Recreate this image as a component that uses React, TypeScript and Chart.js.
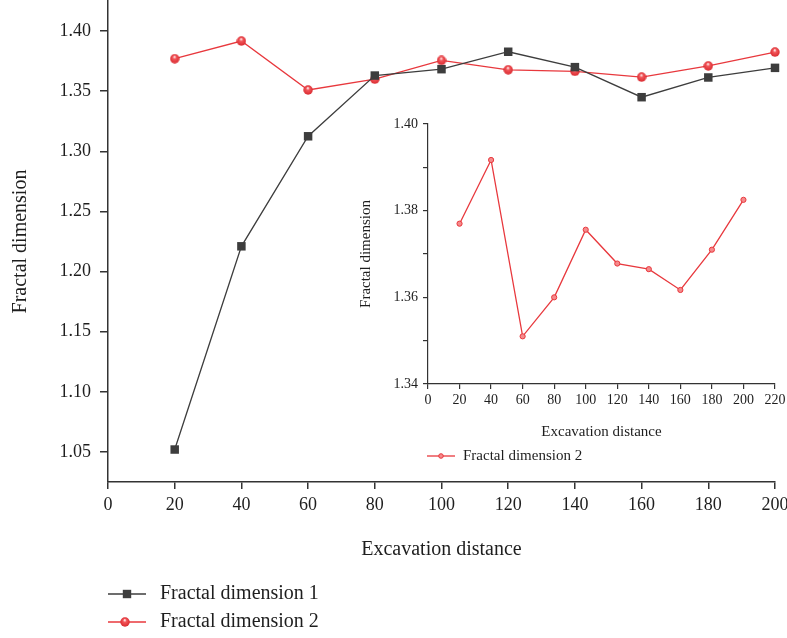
import React, { useEffect, useRef } from "react";
import { Chart, registerables } from "chart.js";

Chart.register(...registerables);

// ---- data ----
const distances = [20, 40, 60, 80, 100, 120, 140, 160, 180, 200];
const fractal1 = [1.052, 1.221, 1.3125, 1.363, 1.3683, 1.3828, 1.370, 1.345, 1.3614, 1.3694];
const fractal2 = [1.377, 1.3917, 1.351, 1.360, 1.3756, 1.3678, 1.3665, 1.3617, 1.371, 1.3825];
const seriesNames = ["Fractal dimension 1", "Fractal dimension 2"];
const mainXTicks = [0, 20, 40, 60, 80, 100, 120, 140, 160, 180, 200];
const mainYTicks = [1.05, 1.1, 1.15, 1.2, 1.25, 1.3, 1.35, 1.4];
const insetXTicks = [0, 20, 40, 60, 80, 100, 120, 140, 160, 180, 200, 220];
const insetYTicks = [1.34, 1.35, 1.36, 1.37, 1.38, 1.39, 1.4];
const insetYLabeled = [1.34, 1.36, 1.38, 1.4];

const FONT = "'Liberation Serif', 'Times New Roman', serif";
const DARK = "#3d3d3d";
const RED = "#e8383d";
const AXIS = "#333333";
const TEXT = "#1e1e1e";

function makeSphere(r: number): HTMLCanvasElement {
  const c = document.createElement("canvas");
  c.width = c.height = Math.ceil(2 * r);
  const ctx = c.getContext("2d")!;
  const g = ctx.createRadialGradient(r * 0.95, r * 0.6, r * 0.08, r, r, r);
  g.addColorStop(0, "#ffe6e6");
  g.addColorStop(0.3, "#f2565a");
  g.addColorStop(1, "#d8272d");
  ctx.fillStyle = g;
  ctx.beginPath();
  ctx.arc(r, r, r - 0.3, 0, Math.PI * 2);
  ctx.fill();
  return c;
}

const pts = (vals: number[]) => distances.map((x, i) => ({ x, y: vals[i] }));

export default function App() {
  const mainRef = useRef<HTMLCanvasElement>(null);
  const insetRef = useRef<HTMLCanvasElement>(null);

  useEffect(() => {
    const sphere = makeSphere(5);
    const main = new Chart(mainRef.current!, {
      type: "line",
      data: {
        datasets: [
          {
            label: seriesNames[0],
            data: pts(fractal1),
            borderColor: DARK,
            backgroundColor: DARK,
            borderWidth: 1.3,
            pointStyle: "rect",
            pointRadius: 6,
            pointBorderWidth: 0,
            pointBackgroundColor: DARK,
            clip: false,
          },
          {
            label: seriesNames[1],
            data: pts(fractal2),
            borderColor: RED,
            backgroundColor: RED,
            borderWidth: 1.3,
            pointStyle: sphere,
            pointRadius: 5,
            clip: false,
          },
        ],
      },
      options: {
        responsive: false,
        animation: false,
        layout: { autoPadding: false, padding: { top: 1, left: 0, right: 12, bottom: 76 } },
        plugins: { legend: { display: false }, tooltip: { enabled: false } },
        scales: {
          x: {
            type: "linear",
            min: 0,
            max: 200,
            afterBuildTicks: (s: any) => {
              s.ticks = mainXTicks.map((v) => ({ value: v }));
            },
            afterFit: (s: any) => {
              s.height = 80;
              s.paddingLeft = 0;
              s.paddingRight = 0;
            },
            ticks: { font: { family: FONT, size: 18 }, color: TEXT, padding: 5, maxRotation: 0, autoSkip: false },
            grid: { drawOnChartArea: false, drawTicks: true, tickLength: 7, color: AXIS, lineWidth: 1.5 },
            border: { display: true, color: AXIS, width: 1.5 },
            title: { display: true, text: "Excavation distance", font: { family: FONT, size: 20 }, color: TEXT, padding: { top: 0, bottom: 0 } },
          },
          y: {
            type: "linear",
            min: 1.025,
            max: 1.425,
            afterBuildTicks: (s: any) => {
              s.ticks = mainYTicks.map((v) => ({ value: v }));
            },
            afterFit: (s: any) => {
              s.width = 108;
              s.paddingTop = 0;
              s.paddingBottom = 0;
            },
            ticks: { font: { family: FONT, size: 18 }, color: TEXT, padding: 9, callback: (v: any) => Number(v).toFixed(2) },
            grid: { drawOnChartArea: false, drawTicks: true, tickLength: 8, color: AXIS, lineWidth: 1.5 },
            border: { display: true, color: AXIS, width: 1.5 },
            title: { display: true, text: "Fractal dimension", font: { family: FONT, size: 20 }, color: TEXT, padding: { top: 9, bottom: 0 } },
          },
        },
      },
      plugins: [
        {
          id: "mainLegend",
          afterDraw: (chart: any) => {
            const ctx = chart.ctx;
            const rows = [594, 622];
            ctx.save();
            chart.data.datasets.forEach((ds: any, i: number) => {
              const y = rows[i];
              ctx.strokeStyle = ds.borderColor;
              ctx.lineWidth = 1.3;
              ctx.beginPath();
              ctx.moveTo(108, y);
              ctx.lineTo(146, y);
              ctx.stroke();
              if (i === 0) {
                ctx.fillStyle = DARK;
                ctx.fillRect(127 - 4.2, y - 4.2, 8.4, 8.4);
              } else {
                ctx.drawImage(sphere, 125 - 5, y - 5);
              }
              ctx.fillStyle = TEXT;
              ctx.font = `20px ${FONT}`;
              ctx.textAlign = "left";
              ctx.textBaseline = "middle";
              ctx.fillText(ds.label, 160, y);
            });
            ctx.restore();
          },
        },
      ],
    } as any);

    const inset = new Chart(insetRef.current!, {
      type: "line",
      data: {
        datasets: [
          {
            label: seriesNames[1],
            data: pts(fractal2),
            borderColor: RED,
            borderWidth: 1.3,
            pointStyle: "circle",
            pointRadius: 2.6,
            pointBorderWidth: 1,
            pointBorderColor: RED,
            pointBackgroundColor: "#f58a8c",
            clip: false,
          },
        ],
      },
      options: {
        responsive: false,
        animation: false,
        layout: { autoPadding: false, padding: { top: 14, left: 0, right: 12, bottom: 29 } },
        plugins: { legend: { display: false }, tooltip: { enabled: false } },
        scales: {
          x: {
            type: "linear",
            min: 0,
            max: 220,
            afterBuildTicks: (s: any) => {
              s.ticks = insetXTicks.map((v) => ({ value: v }));
            },
            afterFit: (s: any) => {
              s.height = 57;
              s.paddingLeft = 0;
              s.paddingRight = 0;
            },
            ticks: { font: { family: FONT, size: 14 }, color: TEXT, padding: 3, maxRotation: 0, autoSkip: false },
            grid: { drawOnChartArea: false, drawTicks: true, tickLength: 5, color: AXIS, lineWidth: 1.2 },
            border: { display: true, color: AXIS, width: 1.2 },
            title: { display: true, text: "Excavation distance", font: { family: FONT, size: 15 }, color: TEXT, padding: { top: 0, bottom: 0 } },
          },
          y: {
            type: "linear",
            min: 1.34,
            max: 1.4,
            afterBuildTicks: (s: any) => {
              s.ticks = insetYTicks.map((v) => ({ value: v }));
            },
            afterFit: (s: any) => {
              s.width = 78;
              s.paddingTop = 0;
              s.paddingBottom = 0;
            },
            ticks: {
              font: { family: FONT, size: 14 },
              color: TEXT,
              padding: 5,
              autoSkip: false,
              callback: (v: any) => {
                const n = Number(v);
                return insetYLabeled.some((t) => Math.abs(t - n) < 1e-6) ? n.toFixed(2) : "";
              },
            },
            grid: { drawOnChartArea: false, drawTicks: true, tickLength: 5, color: AXIS, lineWidth: 1.2 },
            border: { display: true, color: AXIS, width: 1.2 },
            title: { display: true, text: "Fractal dimension", font: { family: FONT, size: 15 }, color: TEXT, padding: { top: 7, bottom: 0 } },
          },
        },
      },
      plugins: [
        {
          id: "insetLegend",
          afterDraw: (chart: any) => {
            const ctx = chart.ctx;
            const ds = chart.data.datasets[0];
            const y = 346;
            ctx.save();
            ctx.strokeStyle = RED;
            ctx.lineWidth = 1.3;
            ctx.beginPath();
            ctx.moveTo(77, y);
            ctx.lineTo(105, y);
            ctx.stroke();
            ctx.fillStyle = "#f58a8c";
            ctx.beginPath();
            ctx.arc(91, y, 2.3, 0, Math.PI * 2);
            ctx.fill();
            ctx.lineWidth = 1;
            ctx.stroke();
            ctx.fillStyle = TEXT;
            ctx.font = `15px ${FONT}`;
            ctx.textAlign = "left";
            ctx.textBaseline = "middle";
            ctx.fillText(ds.label, 113, y);
            ctx.restore();
          },
        },
      ],
    } as any);

    return () => {
      main.destroy();
      inset.destroy();
    };
  }, []);

  return (
    <div style={{ position: "fixed", left: 0, top: 0, width: 787, height: 638, background: "#fff" }}>
      <canvas ref={mainRef} width={787} height={638} style={{ position: "absolute", left: 0, top: 0 }} />
      <canvas ref={insetRef} width={437} height={360} style={{ position: "absolute", left: 350, top: 110 }} />
    </div>
  );
}
